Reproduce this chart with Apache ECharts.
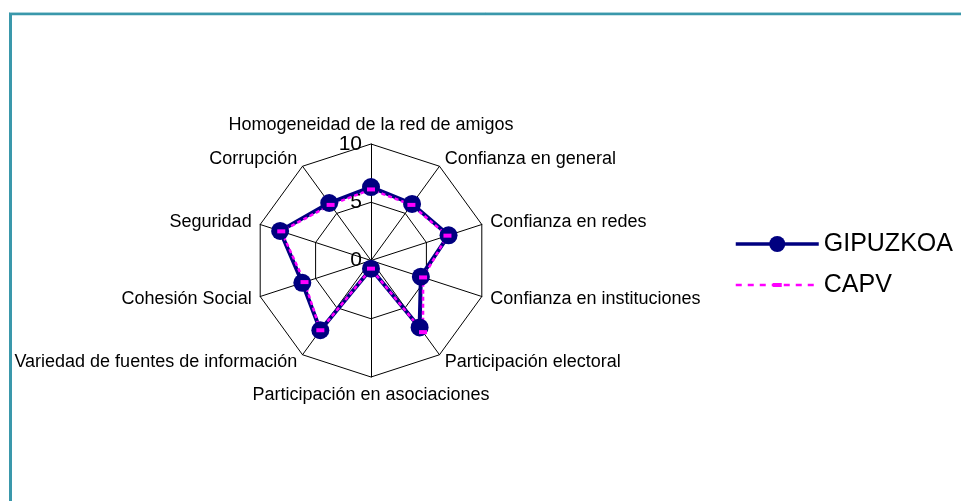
<!DOCTYPE html>
<html>
<head>
<meta charset="utf-8">
<script src="https://cdn.jsdelivr.net/npm/echarts@6/dist/echarts.min.js"></script>
<style>
  html, body { margin: 0; padding: 0; background: #fff; }
  #chart { width: 961px; height: 501px; }
</style>
</head>
<body>
<div id="chart"></div>
<script>
// Categories in clockwise order starting from the top
const categories = [
  'Homogeneidad de la red de amigos',
  'Confianza en general',
  'Confianza en redes',
  'Confianza en instituciones',
  'Participación electoral',
  'Participación en asociaciones',
  'Variedad de fuentes de información',
  'Cohesión Social',
  'Seguridad',
  'Corrupción'
];
const gipuzkoa = [6.3, 6.0, 7.0, 4.5, 7.1, 0.7, 7.4, 6.2, 8.2, 6.1];
const capv     = [6.1, 5.9, 6.9, 4.7, 7.6, 0.7, 7.4, 6.0, 8.1, 5.9];
const seriesNames = ['GIPUZKOA', 'CAPV'];
const axisMin = 0, axisMax = 10, axisInterval = 5;

// ECharts places radar indicators counter-clockwise; reorder to get clockwise layout
function cw(arr) { return [arr[0]].concat(arr.slice(1).reverse()); }

const navy = '#000080';
const magenta = '#ff00ff';
const font = 'Liberation Sans, Arial, sans-serif';

const indicator = cw(categories).map(function (name, i) {
  const ind = { name: name, min: axisMin, max: axisMax };
  if (i === 0) {
    ind.axisLabel = { show: true, fontSize: 21, color: '#000', fontFamily: font, margin: 9 };
  }
  return ind;
});

const capvLegendSymbol = 'path://M0 0 L0.01 0 L0 0.01 Z M16 16 L15.99 16 L16 15.99 Z M3.5 6 L12.5 6 L12.5 10 L3.5 10 Z';

const chart = echarts.init(document.getElementById('chart'), null, { renderer: 'canvas' });
chart.setOption({
  animation: false,
  backgroundColor: '#fff',
  graphic: [{
    type: 'polyline',
    shape: { points: [[10.5, 501], [10.5, 13.8], [961, 13.8]] },
    style: { stroke: '#3a98ab', lineWidth: 3, fill: null }
  }, {
    type: 'polyline',
    shape: { points: [[961, 12.5], [9.5, 12.5]] },
    style: { stroke: '#a8d2da', lineWidth: 1, fill: null }
  }],
  grid: { left: -50, top: -50, width: 10, height: 10, show: false },
  xAxis: { show: false, type: 'value' },
  yAxis: { show: false, type: 'value' },
  legend: {
    orient: 'vertical',
    left: 734,
    top: 231.5,
    padding: 0,
    itemWidth: 83,
    itemHeight: 20,
    itemGap: 16,
    data: [
      { name: seriesNames[0], lineStyle: { width: 3.5 } },
      { name: seriesNames[1], lineStyle: { width: 2.5 } }
    ],
    textStyle: { fontSize: 25, color: '#000', fontFamily: font }
  },
  radar: {
    center: [371, 260.5],
    radius: 116.5,
    startAngle: 90,
    splitNumber: (axisMax - axisMin) / axisInterval,
    shape: 'polygon',
    axisName: { color: '#000', fontSize: 18, fontFamily: font },
    nameGap: 9,
    axisLine: { lineStyle: { color: '#000', width: 1 } },
    splitLine: { lineStyle: { color: '#000', width: 1 } },
    splitArea: { show: false },
    axisTick: { show: false },
    axisLabel: { show: false },
    indicator: indicator
  },
  series: [
    {
      name: seriesNames[0], type: 'line', data: [],
      symbol: 'circle', symbolSize: 16,
      itemStyle: { color: navy },
      lineStyle: { color: navy, width: 3.5 }
    },
    {
      name: seriesNames[1], type: 'line', data: [],
      symbol: capvLegendSymbol, symbolSize: 16,
      itemStyle: { color: magenta },
      lineStyle: { color: magenta, width: 2.5, type: [6, 6] }
    },
    {
      name: 'radar-gipuzkoa', type: 'radar',
      symbol: 'circle', symbolSize: 18,
      itemStyle: { color: navy, borderWidth: 0 },
      lineStyle: { color: navy, width: 4 },
      data: [{ name: seriesNames[0], value: cw(gipuzkoa) }]
    },
    {
      name: 'radar-capv', type: 'radar',
      symbol: 'rect', symbolSize: [8, 4], symbolOffset: [3, 1],
      itemStyle: { color: magenta, borderWidth: 0 },
      lineStyle: { color: magenta, width: 2.5, type: [4, 3] },
      data: [{ name: seriesNames[1], value: cw(capv) }]
    }
  ]
});
</script>
</body>
</html>
